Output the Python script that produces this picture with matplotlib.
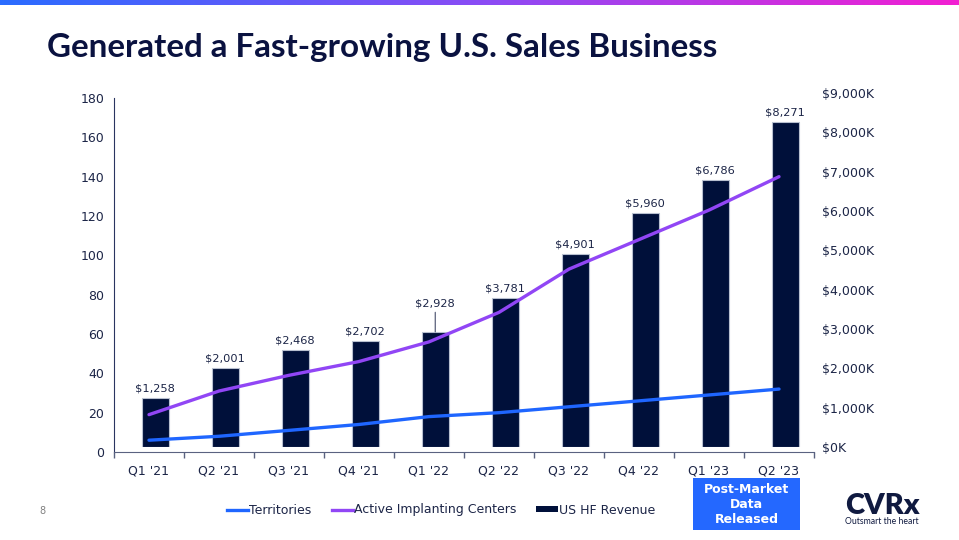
import matplotlib
matplotlib.use("Agg")
import matplotlib.pyplot as plt
import numpy as np
from matplotlib.patches import Rectangle
from matplotlib.lines import Line2D
from matplotlib.colors import LinearSegmentedColormap

quarters = ["Q1 '21", "Q2 '21", "Q3 '21", "Q4 '21", "Q1 '22", "Q2 '22",
            "Q3 '22", "Q4 '22", "Q1 '23", "Q2 '23"]
revenue_k = [1258, 2001, 2468, 2702, 2928, 3781, 4901, 5960, 6786, 8271]
territories = [6, 8, 11, 14, 18, 20, 23, 26, 29, 32]
implant_centers = [19, 31, 39, 46, 56, 71, 93, 108, 123, 140]
left_ticks = [0, 20, 40, 60, 80, 100, 120, 140, 160, 180]
right_ticks = [0, 1000, 2000, 3000, 4000, 5000, 6000, 7000, 8000, 9000]

TXT = "#1c2547"
BLUE = "#1f66ff"
PURPLE = "#9146f5"
BAR = "#00103a"

W, H = 959, 540
fig = plt.figure(figsize=(W / 100, H / 100), dpi=100)

def fx(px):
    return px / W

def fy(py):
    return 1 - py / H

# top gradient band
gax = fig.add_axes([0, fy(5), 1, 5 / H])
grad = np.linspace(0, 1, 256).reshape(1, -1)
cmap = LinearSegmentedColormap.from_list("g", ["#2a6cff", "#8a4cf5", "#f21fd2"])
gax.imshow(grad, aspect="auto", cmap=cmap)
gax.axis("off")

# title
fig.text(fx(47), fy(48), "Generated a Fast-growing U.S. Sales Business",
         fontsize=23.9, fontweight="bold", family="Lato", color="#0a1240",
         va="center", ha="left")

# main axes (lines, left scale)
left, right, top, bottom = 114, 814, 98, 452
ax = fig.add_axes([fx(left), fy(bottom), fx(right - left), (bottom - top) / H])
# bar axes (right scale), shifted up 5 px like the reference
ax2 = fig.add_axes([fx(left), fy(bottom - 5), fx(right - left), (bottom - top) / H])
ax2.set_zorder(1)
ax.set_zorder(2)
ax.patch.set_visible(False)

x = np.arange(len(quarters))
ax2.bar(x + 0.09, revenue_k, width=0.39, color=BAR, edgecolor="#b8c0d0",
        linewidth=0.8, zorder=2)
ax2.set_ylim(0, 9000)
ax2.set_xlim(-0.5, len(quarters) - 0.5)
ax2.yaxis.tick_right()
ax2.set_yticks(right_ticks)
ax2.set_yticklabels([f"${v:,}K" for v in right_ticks])
ax2.tick_params(axis="y", length=0, pad=6, labelsize=9, labelcolor=TXT)
ax2.set_xticks([])
for s in ax2.spines.values():
    s.set_visible(False)

for i, v in enumerate(revenue_k):
    if i == 4:
        ax2.annotate(f"${v:,}", xy=(i + 0.09, v), xytext=(i + 0.09, v + 600),
                     ha="center", va="bottom", fontsize=8.2, color=TXT,
                     arrowprops=dict(arrowstyle="-", color="#6a7088", lw=1,
                                     shrinkA=1, shrinkB=0))
    else:
        ax2.text(i + 0.09, v + 110, f"${v:,}", ha="center", va="bottom",
                 fontsize=8.2, color=TXT)

ax.plot(x, territories, color=BLUE, lw=2.4, solid_capstyle="round", zorder=3)
ax.plot(x, implant_centers, color=PURPLE, lw=2.4, solid_capstyle="round", zorder=3)
ax.set_ylim(0, 180)
ax.set_xlim(-0.5, len(quarters) - 0.5)
ax.set_yticks(left_ticks)
ax.tick_params(axis="y", length=0, pad=7, labelsize=9, labelcolor=TXT)
ax.set_xticks(x)
ax.set_xticklabels(quarters)
ax.set_xticks(np.arange(-0.5, len(quarters)), minor=True)
ax.tick_params(axis="x", which="major", length=0, pad=9, labelsize=9, labelcolor=TXT)
ax.tick_params(axis="x", which="minor", length=4, width=1, color="#5a6280", direction="out")
ax.spines["top"].set_visible(False)
ax.spines["right"].set_visible(False)
ax.spines["left"].set_color("#2a3560")
ax.spines["bottom"].set_color("#5a6280")

# legend
handles = [Line2D([], [], color=BLUE, lw=2.4),
           Line2D([], [], color=PURPLE, lw=2.4),
           Rectangle((0, 0), 1, 1, facecolor=BAR, edgecolor="none")]
labels = ["Territories", "Active Implanting Centers", "US HF Revenue"]
fig.legend(handles, labels, loc="center", bbox_to_anchor=(fx(441), fy(510)),
           ncol=3, frameon=False, fontsize=9, handlelength=1.7,
           handletextpad=0.1, columnspacing=1.6, handleheight=0.35,
           labelcolor=TXT)

# page number
fig.text(fx(42), fy(511), "8", fontsize=7, color="#808080", ha="center", va="center")

# post-market box
bx0, by0, bx1, by1 = 693, 478, 800, 530
fig.patches.append(Rectangle((fx(bx0), fy(by1)), fx(bx1 - bx0), (by1 - by0) / H,
                             transform=fig.transFigure, facecolor="#2468ff",
                             edgecolor="none"))
fig.text(fx((bx0 + bx1) / 2), fy(504.5), "Post-Market\nData\nReleased",
         ha="center", va="center", fontsize=9, fontweight="bold", color="white",
         linespacing=1.2)

# logo
fig.text(fx(882), fy(506), "CVRx", ha="center", va="center", fontsize=21,
         fontweight="heavy", family="Lato", color="#101a40")
fig.text(fx(882), fy(522), "Outsmart the heart", ha="center", va="center",
         fontsize=6.2, family="Lato", color="#101a40")

fig.savefig("out.png", dpi=100)
